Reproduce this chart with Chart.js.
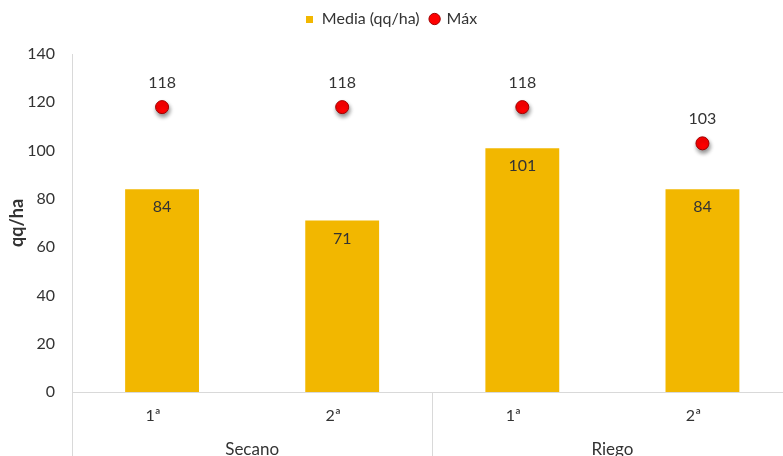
<!DOCTYPE html>
<html>
<head>
<meta charset="utf-8">
<script src="https://cdn.jsdelivr.net/npm/chart.js@4.4.1/dist/chart.umd.min.js"></script>
<style>
  html, body { margin: 0; padding: 0; background: #ffffff; overflow: hidden; }
  #wrap { width: 800px; height: 456px; }
</style>
</head>
<body>
<div id="wrap"><canvas id="chart"></canvas></div>
<script>
// Yield per campaign (first / second), dryland vs irrigated
const categories = ['1ª', '2ª', '1ª', '2ª'];
const groups = ['Secano', 'Riego'];
const groupSizes = [2, 2];
const mediaValues = [84, 71, 101, 84];
const maxValues = [118, 118, 118, 103];
const yTickStep = 20;
const yMin = 0;
const yMax = 140;

const FONT = 'Lato, "Open Sans", sans-serif';
const TEXT = '#333333';
const AXIS = '#d9d9d9';
const GOLD = '#F2B700';

// small square swatch for the bar series in the legend
const swatch = document.createElement('canvas');
swatch.width = 7;
swatch.height = 7;
(function () {
  const c = swatch.getContext('2d');
  c.fillStyle = GOLD;
  c.fillRect(0, 0, 7, 7);
})();

// value labels above the points and inside the top of the bars
const valueLabels = {
  id: 'valueLabels',
  afterDatasetsDraw(chart) {
    const ctx = chart.ctx;
    ctx.save();
    ctx.font = '16px ' + FONT;
    ctx.fillStyle = TEXT;
    ctx.textAlign = 'center';
    ctx.textBaseline = 'middle';
    chart.getDatasetMeta(0).data.forEach((el, i) => {
      ctx.fillText(String(mediaValues[i]), el.x, el.y + 18);
    });
    chart.getDatasetMeta(1).data.forEach((el, i) => {
      ctx.fillText(String(maxValues[i]), el.x, el.y - 24);
    });
    ctx.restore();
  }
};

// soft drop shadow under the maximum markers
const pointShadow = {
  id: 'pointShadow',
  beforeDatasetDraw(chart, args) {
    if (args.index !== 1) return;
    const ctx = chart.ctx;
    ctx.save();
    ctx.shadowColor = 'rgba(0,0,0,0.45)';
    ctx.shadowBlur = 4;
    ctx.shadowOffsetX = 1;
    ctx.shadowOffsetY = 3;
  },
  afterDatasetDraw(chart, args) {
    if (args.index !== 1) return;
    chart.ctx.restore();
  }
};

// second level of the category axis: group separators and group names
const groupAxis = {
  id: 'groupAxis',
  afterDraw(chart) {
    const ctx = chart.ctx;
    const x = chart.scales.x;
    const area = chart.chartArea;
    const half = (x.getPixelForValue(1) - x.getPixelForValue(0)) / 2;
    ctx.save();
    ctx.strokeStyle = AXIS;
    ctx.lineWidth = 1;
    let idx = 0;
    const bounds = [x.getPixelForValue(0) - half];
    groupSizes.forEach(n => {
      idx += n;
      bounds.push(x.getPixelForValue(idx - 1) + half);
    });
    bounds.forEach(px => {
      const p = Math.round(px) + 0.5;
      ctx.beginPath();
      ctx.moveTo(p, area.bottom);
      ctx.lineTo(p, chart.height);
      ctx.stroke();
    });
    ctx.font = '17px ' + FONT;
    ctx.fillStyle = TEXT;
    ctx.textAlign = 'center';
    ctx.textBaseline = 'middle';
    groups.forEach((g, i) => {
      ctx.fillText(g, (bounds[i] + bounds[i + 1]) / 2, area.bottom + 58);
    });
    ctx.restore();
  },
  beforeDraw(chart) {
    // centre the legend on the visible window width
    const lg = chart.legend;
    if (lg && !lg._shifted) {
      lg.right -= 17;
      lg._shifted = true;
    }
  },
  afterLayout(chart) {
    if (chart.legend) chart.legend._shifted = false;
  }
};

const ctx = document.getElementById('chart').getContext('2d');
new Chart(ctx, {
  data: {
    labels: categories,
    datasets: [
      {
        type: 'bar',
        label: 'Media (qq/ha)',
        data: mediaValues,
        backgroundColor: GOLD,
        borderWidth: 0,
        barPercentage: 1,
        categoryPercentage: 0.41,
        pointStyle: swatch
      },
      {
        type: 'line',
        label: 'Máx',
        data: maxValues,
        showLine: false,
        pointStyle: 'circle',
        pointRadius: 6.5,
        pointHoverRadius: 6.5,
        pointBackgroundColor: '#FF0000',
        pointBorderColor: '#A00000',
        pointBorderWidth: 1,
        backgroundColor: '#FF0000',
        borderColor: '#A00000'
      }
    ]
  },
  options: {
    responsive: true,
    maintainAspectRatio: false,
    animation: false,
    layout: { padding: 0 },
    plugins: {
      tooltip: { enabled: false },
      legend: {
        position: 'top',
        labels: {
          usePointStyle: true,
          boxWidth: 8,
          boxHeight: 8,
          padding: 11,
          color: TEXT,
          font: { family: FONT, size: 16 }
        }
      }
    },
    scales: {
      x: {
        type: 'category',
        offset: true,
        grid: { display: false, drawTicks: false },
        border: { display: true, color: AXIS, width: 1 },
        ticks: { color: TEXT, font: { family: FONT, size: 16 }, padding: 14, labelOffset: -9 },
        afterFit(scale) { scale.height = 64; }
      },
      y: {
        min: yMin,
        max: yMax,
        grid: { display: false, drawTicks: false },
        border: { display: true, color: AXIS, width: 1 },
        ticks: { stepSize: yTickStep, color: TEXT, font: { family: FONT, size: 16 }, padding: 17 },
        title: {
          display: true,
          text: 'qq/ha',
          color: TEXT,
          font: { family: FONT, size: 18, weight: 'bold' },
          padding: { top: 6, bottom: 0 }
        },
        afterFit(scale) { scale.width = 72; }
      }
    }
  },
  plugins: [
    {
      id: 'legendHeight',
      beforeInit(chart) {
        const fit = chart.legend.fit;
        chart.legend.fit = function () {
          fit.call(this);
          this.height = 54;
        };
      }
    },
    pointShadow, valueLabels, groupAxis
  ]
});
</script>
</body>
</html>
